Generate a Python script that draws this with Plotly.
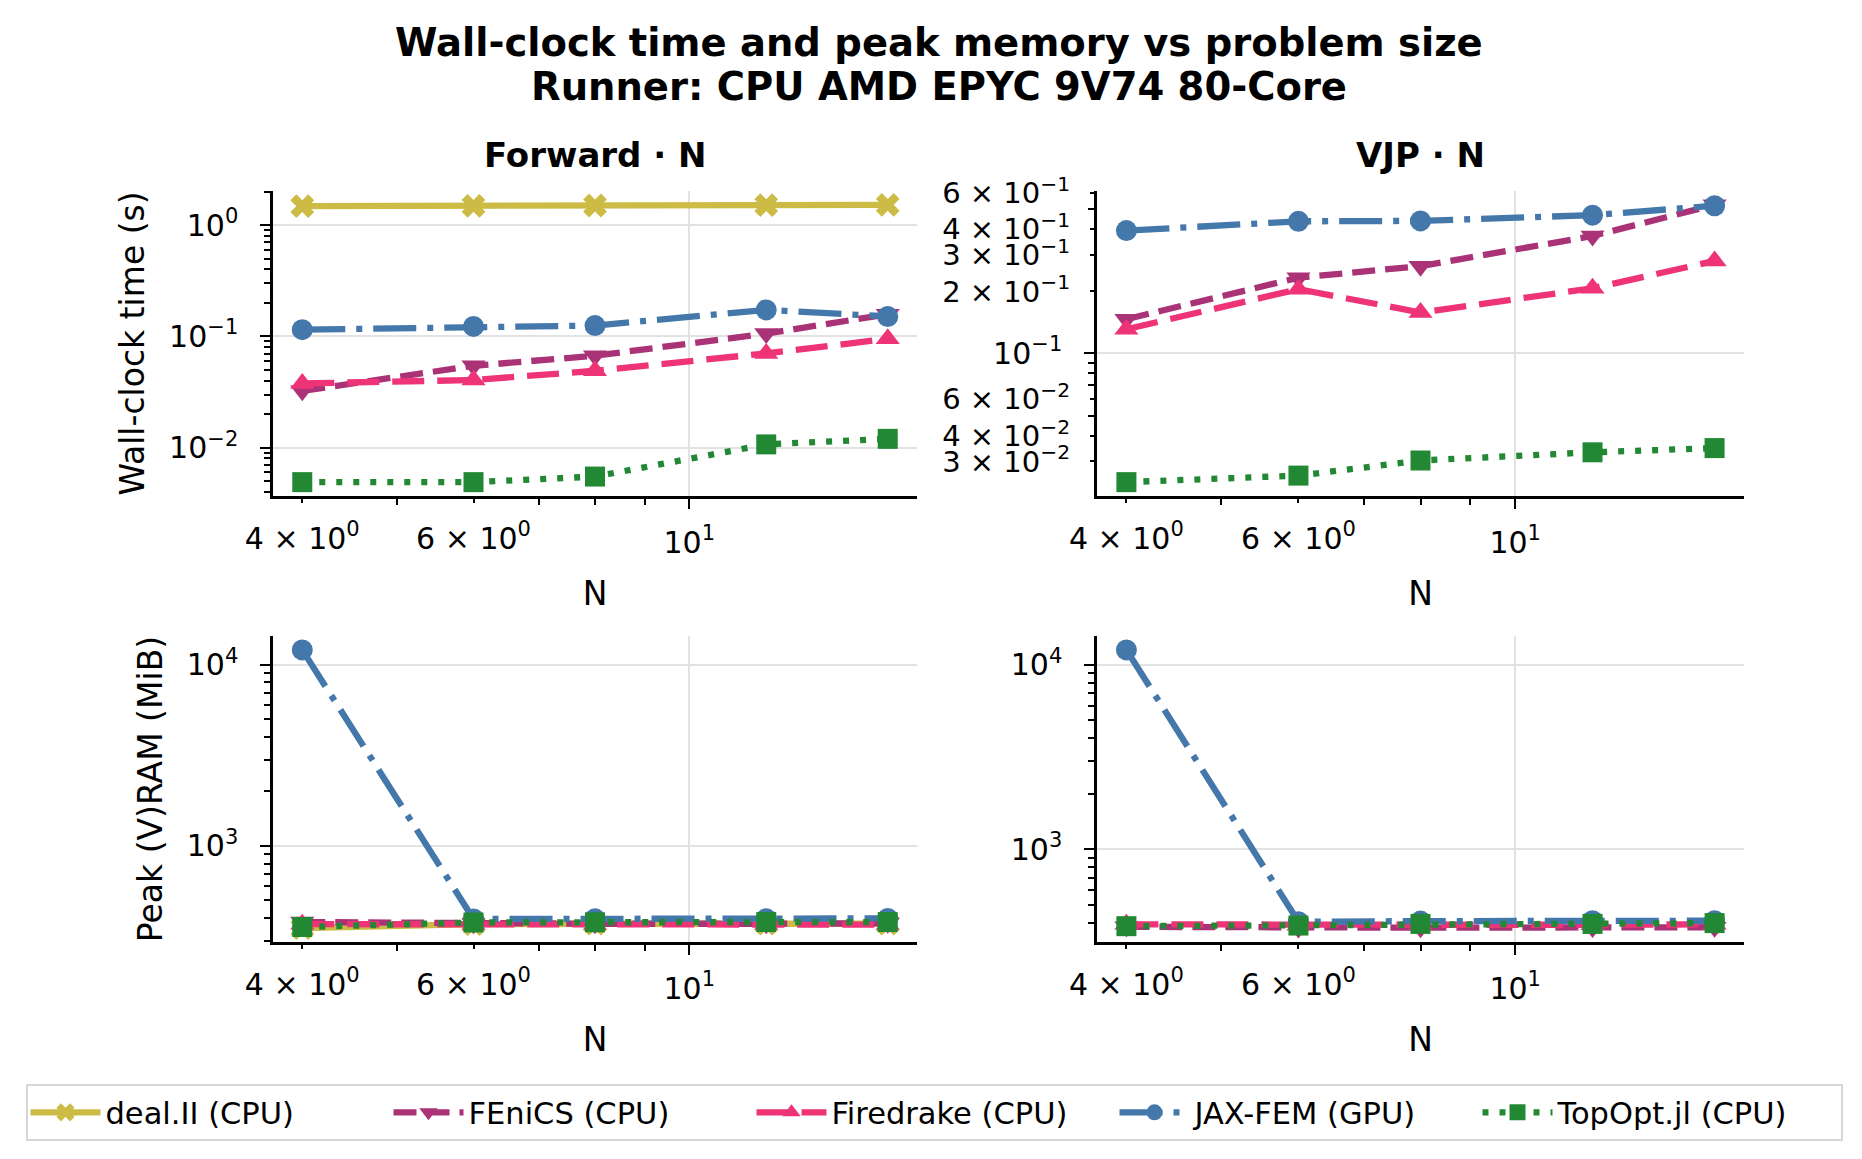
import numpy as np
import plotly.graph_objects as go

# ----- data -----
N = [4, 6, 8, 12, 16]

series = ["deal.II (CPU)", "FEniCS (CPU)", "Firedrake (CPU)", "JAX-FEM (GPU)", "TopOpt.jl (CPU)"]

# forward wall-clock time (s)
fwd_time_dealii = [1.48, 1.49, 1.50, 1.51, 1.52]
fwd_time_fenics = [0.0324, 0.0544, 0.067, 0.106, 0.158]
fwd_time_firedrake = [0.0378, 0.0405, 0.0491, 0.0703, 0.095]
fwd_time_jaxfem = [0.115, 0.123, 0.125, 0.173, 0.151]
fwd_time_topopt = [0.0049, 0.0049, 0.0055, 0.0107, 0.0120]

# VJP wall-clock time (s)
vjp_time_fenics = [0.1466, 0.233, 0.265, 0.371, 0.525]
vjp_time_firedrake = [0.131, 0.205, 0.158, 0.207, 0.281]
vjp_time_jaxfem = [0.394, 0.437, 0.439, 0.468, 0.52]
vjp_time_topopt = [0.0238, 0.0256, 0.0303, 0.0332, 0.0348]

# forward peak (V)RAM (MiB)
fwd_mem_dealii = [352, 370, 372, 372, 372]
fwd_mem_fenics = [380, 372, 372, 372, 374]
fwd_mem_firedrake = [370, 368, 368, 368, 368]
fwd_mem_jaxfem = [12100, 395, 396, 396, 398]
fwd_mem_topopt = [357, 378, 379, 380, 380]

# VJP peak (V)RAM (MiB)
vjp_mem_fenics = [380, 374, 376, 377, 378]
vjp_mem_firedrake = [392, 388, 390, 390, 392]
vjp_mem_jaxfem = [12050, 405, 408, 410, 410]
vjp_mem_topopt = [383, 386, 394, 394, 398]

# tick positions / labels
x_major = [10]
x_major_text = ["10<sup>1</sup>"]
x_labeled_minor = [4, 6]
x_labeled_minor_text = ["4 × 10<sup>0</sup>", "6 × 10<sup>0</sup>"]
x_minor = [5, 7, 8, 9]

fwd_time_major = [0.01, 0.1, 1]
fwd_time_major_text = ["10<sup>−2</sup>", "10<sup>−1</sup>", "10<sup>0</sup>"]
fwd_time_minor = [0.004, 0.005, 0.006, 0.007, 0.008, 0.009,
                  0.02, 0.03, 0.04, 0.05, 0.06, 0.07, 0.08, 0.09,
                  0.2, 0.3, 0.4, 0.5, 0.6, 0.7, 0.8, 0.9, 2]

vjp_time_major = [0.1]
vjp_time_major_text = ["10<sup>−1</sup>"]
vjp_time_labeled_minor = [0.03, 0.04, 0.06, 0.2, 0.3, 0.4, 0.6]
vjp_time_labeled_minor_text = ["3 × 10<sup>−2</sup>", "4 × 10<sup>−2</sup>", "6 × 10<sup>−2</sup>",
                               "2 × 10<sup>−1</sup>", "3 × 10<sup>−1</sup>", "4 × 10<sup>−1</sup>",
                               "6 × 10<sup>−1</sup>"]
vjp_time_minor = [0.05, 0.07, 0.08, 0.09, 0.5]

mem_major = [1000, 10000]
mem_major_text = ["10<sup>3</sup>", "10<sup>4</sup>"]
mem_minor = [300, 400, 500, 600, 700, 800, 900,
             2000, 3000, 4000, 5000, 6000, 7000, 8000, 9000]

colors = ["#CCBB44", "#AA3377", "#EE3377", "#4477AA", "#228833"]
symbols = ["x", "triangle-down", "triangle-up", "circle", "square"]
dashes = ["solid", "23px,10px", "32px,13px", "43px,11px,6px,11px", "6px,11px"]
msizes = [21, 21, 21, 21, 20]

FONT = "DejaVu Sans"
LW = 6.3
W, H = 1862, 1159
OFF = 8  # page body margin of the html output


def px_x(px):
    return (px - OFF) / W


def px_y(py):
    return 1 - (py - OFF) / H


# panel domains (from pixel edges of the reference)
col_dom = [[px_x(273), px_x(917)], [px_x(1097), px_x(1744)]]
row_dom = [[px_y(496), px_y(191)], [px_y(942), px_y(636)]]


def log_range(arrs):
    v = np.log10(np.concatenate([np.asarray(a, float) for a in arrs]))
    lo, hi = v.min(), v.max()
    pad = 0.05 * (hi - lo)
    return [lo - pad, hi + pad]


panels = [
    dict(ys=[fwd_time_dealii, fwd_time_fenics, fwd_time_firedrake, fwd_time_jaxfem, fwd_time_topopt],
         major=fwd_time_major, major_text=fwd_time_major_text, lab_minor=[], lab_minor_text=[],
         minor=fwd_time_minor, ytitle="Wall-clock time (s)", row=0, col=0),
    dict(ys=[None, vjp_time_fenics, vjp_time_firedrake, vjp_time_jaxfem, vjp_time_topopt],
         major=vjp_time_major, major_text=vjp_time_major_text, lab_minor=vjp_time_labeled_minor,
         lab_minor_text=vjp_time_labeled_minor_text, minor=vjp_time_minor, ytitle=None, row=0, col=1),
    dict(ys=[fwd_mem_dealii, fwd_mem_fenics, fwd_mem_firedrake, fwd_mem_jaxfem, fwd_mem_topopt],
         major=mem_major, major_text=mem_major_text, lab_minor=[], lab_minor_text=[],
         minor=mem_minor, ytitle="Peak (V)RAM (MiB)", row=1, col=0),
    dict(ys=[None, vjp_mem_fenics, vjp_mem_firedrake, vjp_mem_jaxfem, vjp_mem_topopt],
         major=mem_major, major_text=mem_major_text, lab_minor=[], lab_minor_text=[],
         minor=mem_minor, ytitle=None, row=1, col=1),
]

tickfont = dict(family=FONT, size=30, color="black")
base = dict(type="log", showline=True, linecolor="black", linewidth=2.5, mirror=False,
            ticks="outside", ticklen=10, tickwidth=2, tickcolor="black",
            showgrid=True, gridcolor="#e2e2e2", gridwidth=1.6, zeroline=False,
            tickfont=tickfont, tickmode="array", automargin=False)
overlay = dict(type="log", showline=False, showgrid=False, zeroline=False,
               ticks="outside", ticklen=6, tickwidth=1.6, tickcolor="black",
               tickfont=tickfont, tickmode="array", automargin=False)

fig = go.Figure()
layout = {}
xr = log_range([N])
n_over = 5
for i, p in enumerate(panels):
    k = "" if i == 0 else str(i + 1)
    xa, ya = "x" + k, "y" + k
    first = next(v for v in p["ys"] if v is not None)
    for j, name in enumerate(series):
        if p["ys"][j] is None:
            continue
        fig.add_trace(go.Scatter(
            x=N, y=p["ys"][j], name=name, mode="lines+markers",
            line=dict(color=colors[j], width=LW, dash=dashes[j]),
            marker=dict(symbol=symbols[j], size=msizes[j], color=colors[j], line=dict(width=0)),
            legendgroup=name, showlegend=(i == 0), xaxis=xa, yaxis=ya))
    yr = log_range([v for v in p["ys"] if v is not None])

    layout["xaxis" + k] = dict(base, domain=col_dom[p["col"]], anchor=ya, range=xr,
                               tickvals=x_major, ticktext=x_major_text, ticklabelstandoff=8,
                               minor=dict(tickmode="array", tickvals=x_minor, ticks="outside",
                                          ticklen=6, tickwidth=1.6, tickcolor="black", showgrid=False),
                               title=dict(text="N", font=dict(family=FONT, size=33, color="black"),
                                          standoff=24))
    layout["yaxis" + k] = dict(base, domain=row_dom[p["row"]], anchor=xa, range=yr,
                               tickvals=p["major"], ticktext=p["major_text"], ticklabelstandoff=16,
                               minor=dict(tickmode="array", tickvals=p["minor"], ticks="outside",
                                          ticklen=6, tickwidth=1.6, tickcolor="black", showgrid=False))
    if p["ytitle"]:
        layout["yaxis" + k]["title"] = dict(text=p["ytitle"], standoff=15,
                                            font=dict(family=FONT, size=33, color="black"))

    # overlay x axis carrying the labelled minor ticks (4, 6)
    xo = "x" + str(n_over)
    layout["xaxis" + str(n_over)] = dict(overlay, overlaying=xa, anchor=ya, side="bottom",
                                         domain=col_dom[p["col"]], range=xr,
                                         tickvals=x_labeled_minor, ticktext=x_labeled_minor_text,
                                         ticklabelstandoff=10)
    fig.add_trace(go.Scatter(x=N, y=first, xaxis=xo, yaxis=ya, mode="markers",
                             marker=dict(opacity=0), showlegend=False, hoverinfo="skip"))
    n_over += 1
    if p["lab_minor"]:
        yo = "y" + str(n_over)
        layout["yaxis" + str(n_over)] = dict(overlay, overlaying=ya, anchor=xa, side="left",
                                             domain=row_dom[p["row"]], range=yr,
                                             tickvals=p["lab_minor"], ticktext=p["lab_minor_text"],
                                             ticklabelstandoff=14,
                                             tickfont=dict(family=FONT, size=29, color="black"))
        fig.add_trace(go.Scatter(x=N, y=first, xaxis=xa, yaxis=yo, mode="markers",
                                 marker=dict(opacity=0), showlegend=False, hoverinfo="skip"))
        n_over += 1

fig.update_layout(**layout)

# subplot titles
for txt, dom in [("<b>Forward · N</b>", col_dom[0]), ("<b>VJP · N</b>", col_dom[1])]:
    fig.add_annotation(text=txt, x=(dom[0] + dom[1]) / 2, y=px_y(155), xref="paper", yref="paper",
                       xanchor="center", yanchor="middle", showarrow=False,
                       font=dict(family=FONT, size=34, color="black"))

# figure title (two lines)
for txt, cy in [("<b>Wall-clock time and peak memory vs problem size</b>", 42),
                ("<b>Runner: CPU AMD EPYC 9V74 80-Core</b>", 86)]:
    fig.add_annotation(text=txt, x=px_x(931 + OFF), y=px_y(cy), xref="paper", yref="paper",
                       xanchor="center", yanchor="middle", showarrow=False,
                       font=dict(family=FONT, size=38.5, color="black"))

fig.update_layout(
    width=W, height=H,
    margin=dict(l=0, r=0, t=0, b=0),
    paper_bgcolor="white", plot_bgcolor="white",
    font=dict(family=FONT, color="black"),
    legend=dict(orientation="h", x=px_x(934), xanchor="center", y=px_y(1084), yanchor="top",
                bordercolor="#d6d6d6", borderwidth=2, bgcolor="white",
                font=dict(family=FONT, size=30.5, color="black"),
                itemwidth=70, entrywidth=278, entrywidthmode="pixels"),
)

fig.write_html("out.html")
